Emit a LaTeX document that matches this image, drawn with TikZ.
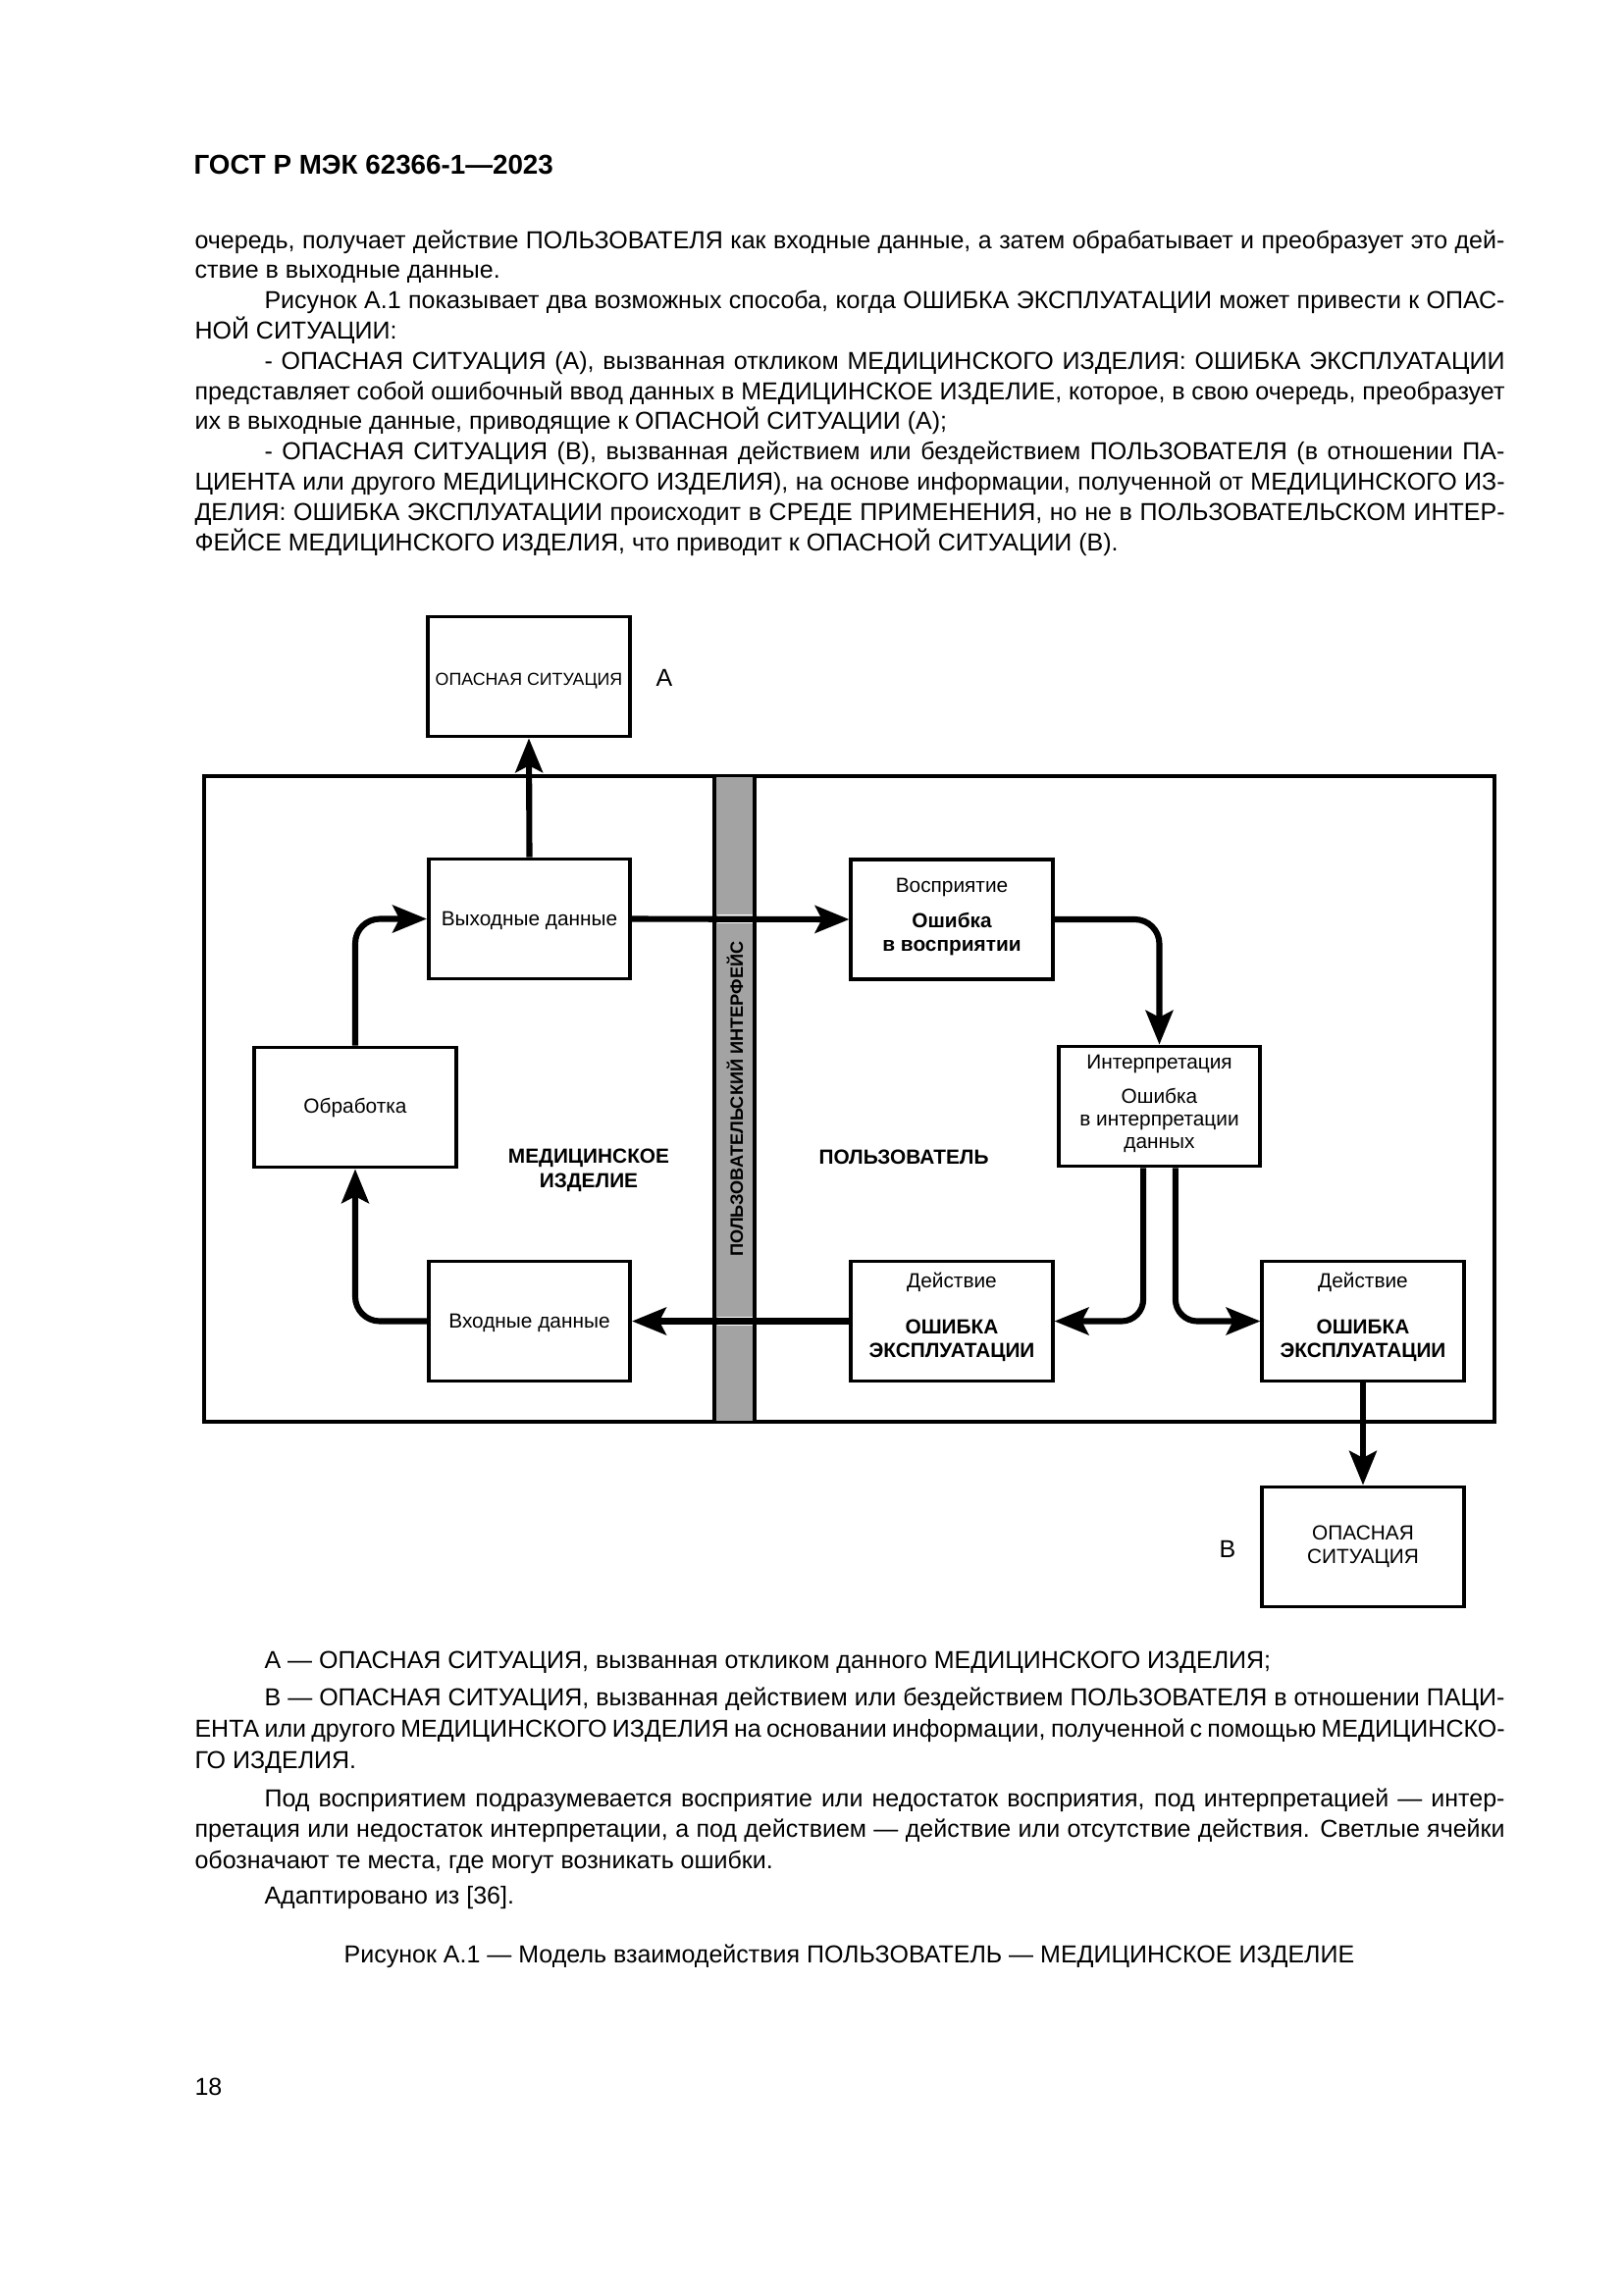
\documentclass[tikz,border=0pt]{standalone}
\usepackage{fontspec}
\setmainfont{Liberation Sans}
\usetikzlibrary{arrows.meta}
\newcommand\bodyf{\fontsize{9}{11}\selectfont}
\newcommand\hdrf{\bfseries\fontsize{10}{11}\selectfont}
\newcommand\jfull[1]{\makebox[480.6pt][s]{#1}}
\newcommand\jind[1]{\makebox[455pt][s]{#1}}
\tikzset{
  txt/.style={anchor=base west, inner sep=0pt, font=\bodyf},
  box/.style={draw, line width=1.3pt, minimum width=74pt, minimum height=44pt, inner sep=0pt, outer sep=0.65pt},
  lbl/.style={anchor=base, inner sep=0pt, font=\fontsize{7.5}{8}\selectfont},
  blbl/.style={anchor=base, inner sep=0pt, font=\bfseries\fontsize{7.5}{8}\selectfont},
  arr/.style={line width=2.2pt, -{Stealth[length=12.5pt,width=10pt,inset=2.5pt]}},
  plainline/.style={line width=1.3pt}
}
\begin{document}
\begin{tikzpicture}[x={(0.36pt,0pt)},y={(0pt,-0.36pt)}]
\useasboundingbox (0,0) rectangle (1654,2339);
\fill[white] (0,0) rectangle (1654,2339);

% header
\node[anchor=base west, inner sep=0pt, font=\hdrf] (hdr) at (197,177) {ГОСТ Р МЭК 62366-1—2023};

% top text
\node[txt] (t1) at (198,253) {\jfull{очередь, получает действие ПОЛЬЗОВАТЕЛЯ как входные данные, а затем обрабатывает и преобразует это дей-}};
\node[txt] (t2) at (198,283.8) {ствие в выходные данные.};
\node[txt] (t3) at (269,314.6) {\jind{Рисунок А.1 показывает два возможных способа, когда ОШИБКА ЭКСПЛУАТАЦИИ может привести к ОПАС-}};
\node[txt] (t4) at (198,345.4) {НОЙ СИТУАЦИИ:};
\node[txt] (t5) at (269,376.2) {\jind{- ОПАСНАЯ СИТУАЦИЯ (А), вызванная откликом МЕДИЦИНСКОГО ИЗДЕЛИЯ: ОШИБКА ЭКСПЛУАТАЦИИ}};
\node[txt] (t6) at (198,407) {\jfull{представляет собой ошибочный ввод данных в МЕДИЦИНСКОЕ ИЗДЕЛИЕ, которое, в свою очередь, преобразует}};
\node[txt] (t7) at (198,437.8) {их в выходные данные, приводящие к ОПАСНОЙ СИТУАЦИИ (А);};
\node[txt] (t8) at (269,468.6) {\jind{- ОПАСНАЯ СИТУАЦИЯ (В), вызванная действием или бездействием ПОЛЬЗОВАТЕЛЯ (в отношении ПА-}};
\node[txt] (t9) at (198,499.4) {\jfull{ЦИЕНТА или другого МЕДИЦИНСКОГО ИЗДЕЛИЯ), на основе информации, полученной от МЕДИЦИНСКОГО ИЗ-}};
\node[txt] (t10) at (198,530.2) {\jfull{ДЕЛИЯ: ОШИБКА ЭКСПЛУАТАЦИИ происходит в СРЕДЕ ПРИМЕНЕНИЯ, но не в ПОЛЬЗОВАТЕЛЬСКОМ ИНТЕР-}};
\node[txt] (t11) at (198,561) {ФЕЙСЕ МЕДИЦИНСКОГО ИЗДЕЛИЯ, что приводит к ОПАСНОЙ СИТУАЦИИ (В).};

% frame and band
\draw[plainline] (208,791) rectangle (1523,1449);
\fill[black!36] (729,792) rectangle (768,1448);
\coordinate (bltop) at (728,791);
\coordinate (blbot) at (728,1449);
\coordinate (brtop) at (769,791);
\coordinate (brbot) at (769,1449);
\coordinate (bli) at (730.5,800);
\coordinate (bri) at (766.5,800);
\draw[plainline] (bltop) -- (blbot);
\draw[plainline] (brtop) -- (brbot);
\node[rotate=90, inner sep=0pt, font=\bfseries\fontsize{6.55}{7}\selectfont] (ui) at (749,1120) {ПОЛЬЗОВАТЕЛЬСКИЙ ИНТЕРФЕЙС};

% boxes
\node[box] (A) at (539,689.5) {};
\node[box] (out) at (539.5,936.5) {};
\node[box] (proc) at (362,1128.5) {};
\node[box] (inp) at (539.5,1346.5) {};
\node[box] (perc) at (970,937) {};
\node[box] (interp) at (1181.5,1127.5) {};
\node[box] (act1) at (970,1346.5) {};
\node[box] (act2) at (1389,1346.5) {};
\node[box] (B) at (1389,1576.5) {};

% box texts
\node[lbl, font=\fontsize{6.4}{7}\selectfont] (Atxt) at (539,698) {ОПАСНАЯ СИТУАЦИЯ};
\node[anchor=base, inner sep=0pt, font=\fontsize{9}{10}\selectfont] (Alab) at (677,699) {A};
\node[lbl] (outtxt) at (539.5,943) {Выходные данные};
\node[lbl] (proctxt) at (362,1134) {Обработка};
\node[lbl] (inptxt) at (539.5,1353) {Входные данные};
\node[lbl] (perc1) at (970,909) {Восприятие};
\node[blbl] (perc2) at (970,945) {Ошибка};
\node[blbl] (perc3) at (970,969) {в восприятии};
\node[lbl] (int1) at (1181.5,1089) {Интерпретация};
\node[lbl] (int2) at (1181.5,1124) {Ошибка};
\node[lbl] (int3) at (1181.5,1147) {в интерпретации};
\node[lbl] (int4) at (1181.5,1170) {данных};
\node[lbl] (a1t1) at (970,1312) {Действие};
\node[blbl] (a1t2) at (970,1359) {ОШИБКА};
\node[blbl] (a1t3) at (970,1383) {ЭКСПЛУАТАЦИИ};
\node[lbl] (a2t1) at (1389,1312) {Действие};
\node[blbl] (a2t2) at (1389,1359) {ОШИБКА};
\node[blbl] (a2t3) at (1389,1383) {ЭКСПЛУАТАЦИИ};
\node[lbl] (Bt1) at (1389,1569) {ОПАСНАЯ};
\node[lbl] (Bt2) at (1389,1593) {СИТУАЦИЯ};
\node[anchor=base, inner sep=0pt, font=\fontsize{9}{10}\selectfont] (Blab) at (1251,1587) {B};
\node[blbl] (md1) at (600,1185) {МЕДИЦИНСКОЕ};
\node[blbl] (md2) at (600,1210) {ИЗДЕЛИЕ};
\node[blbl] (usr) at (921,1186) {ПОЛЬЗОВАТЕЛЬ};

% halos across band
\draw[white, line width=3.2pt] (out.east -| bli) -- (out.east -| bri);
\draw[white, line width=3.2pt] (inp.east -| bli) -- (inp.east -| bri);

% connectors
\draw[arr] (out.north) -- (A.south);
\draw[arr, rounded corners=9pt] (proc.north) |- (out.west);
\draw[arr, rounded corners=9pt] (inp.west) -| (proc.south);
\draw[arr] (out.east) -- (perc.west);
\draw[arr, rounded corners=9pt] (perc.east) -| (interp.north);
\draw[arr, rounded corners=8pt] ([xshift=-5.9pt]interp.south) |- (act1.east);
\draw[arr, rounded corners=8pt] ([xshift=5.9pt]interp.south) |- (act2.west);
\draw[arr] (act1.west) -- (inp.east);
\draw[arr] (act2.south) -- (B.north);

% notes
\node[txt] (n1) at (269,1700) {А — ОПАСНАЯ СИТУАЦИЯ, вызванная откликом данного МЕДИЦИНСКОГО ИЗДЕЛИЯ;};
\node[txt] (n2) at (269,1738) {\jind{В — ОПАСНАЯ СИТУАЦИЯ, вызванная действием или бездействием ПОЛЬЗОВАТЕЛЯ в отношении ПАЦИ-}};
\node[txt] (n3) at (198,1770) {\jfull{ЕНТА или другого МЕДИЦИНСКОГО ИЗДЕЛИЯ на основании информации, полученной с помощью МЕДИЦИНСКО-}};
\node[txt] (n4) at (198,1802) {ГО ИЗДЕЛИЯ.};
\node[txt] (n5) at (269,1841) {\jind{Под восприятием подразумевается восприятие или недостаток восприятия, под интерпретацией — интер-}};
\node[txt] (n6) at (198,1872) {\jfull{претация или недостаток интерпретации, а под действием — действие или отсутствие действия. Светлые ячейки}};
\node[txt] (n7) at (198,1904) {обозначают те места, где могут возникать ошибки.};
\node[txt] (n8) at (269,1940) {Адаптировано из [36].};
\node[anchor=base, inner sep=0pt, font=\bodyf] (cap) at (865.5,2000) {Рисунок А.1 — Модель взаимодействия ПОЛЬЗОВАТЕЛЬ — МЕДИЦИНСКОЕ ИЗДЕЛИЕ};
\node[txt] (pg) at (198,2135) {18};
\end{tikzpicture}
\end{document}
